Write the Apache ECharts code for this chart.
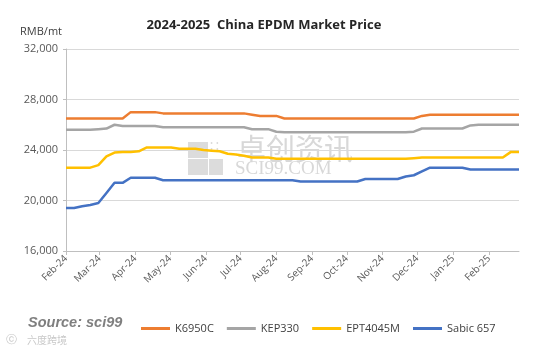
<!DOCTYPE html>
<html><head><meta charset="utf-8">
<script src="https://cdn.jsdelivr.net/npm/echarts@6/dist/echarts.min.js"></script>
<style>html,body{margin:0;padding:0;background:#fff}#c{width:540px;height:352px}</style>
</head><body><div id="c"></div>
<script>
const dates = ['2024-02-01','2024-02-08','2024-02-15','2024-02-22','2024-02-29','2024-03-07','2024-03-14','2024-03-21','2024-03-28',
'2024-04-04','2024-04-11','2024-04-18','2024-04-25','2024-05-02','2024-05-09','2024-05-16','2024-05-23','2024-05-30',
'2024-06-06','2024-06-13','2024-06-20','2024-06-27','2024-07-04','2024-07-11','2024-07-18','2024-07-25',
'2024-08-01','2024-08-08','2024-08-15','2024-08-22','2024-08-29','2024-09-05','2024-09-12','2024-09-19','2024-09-26',
'2024-10-03','2024-10-10','2024-10-17','2024-10-24','2024-10-31','2024-11-07','2024-11-14','2024-11-21','2024-11-28',
'2024-12-05','2024-12-12','2024-12-19','2024-12-26','2025-01-02','2025-01-09','2025-01-16','2025-01-23','2025-01-30',
'2025-02-06','2025-02-13','2025-02-20','2025-02-27'];
const k6950c = [26500,26500,26500,26500,26500,26500,26500,26500,27000,27000,27000,27000,
26900,26900,26900,26900,26900,26900,26900,26900,26900,26900,26900,26800,26700,26700,26700,
26500,26500,26500,26500,26500,26500,26500,26500,26500,26500,26500,26500,26500,26500,26500,26500,26500,
26700,26800,26800,26800,26800,26800,26800,26800,26800,26800,26800,26800,26800];
const kep330 = [25600,25600,25600,25600,25650,25700,26000,25900,25900,25900,25900,25900,
25800,25800,25800,25800,25800,25800,25800,25800,25800,25800,25800,25650,25650,25650,25450,
25400,25400,25400,25400,25400,25400,25400,25400,25400,25400,25400,25400,25400,25400,25400,25400,25450,
25700,25700,25700,25700,25700,25700,25950,26000,26000,26000,26000,26000,26000];
const ept4045m = [22600,22600,22600,22600,22800,23500,23800,23850,23850,23900,24200,24200,24200,24200,
24100,24100,24100,24000,23950,23900,23700,23650,23550,23400,23400,23400,
23300,23300,23300,23300,23300,23300,23300,23300,23300,23300,23300,23300,23300,23300,23300,23300,23300,23350,
23400,23400,23400,23400,23400,23400,23400,23400,23400,23400,23400,23850,23850];
const sabic657 = [19400,19400,19550,19650,19800,20600,21400,21400,21800,21800,21800,21800,
21600,21600,21600,21600,21600,21600,21600,21600,21600,21600,21600,21600,21600,21600,21600,21600,21600,
21500,21500,21500,21500,21500,21500,21500,21500,21700,21700,21700,21700,21700,21900,22000,22300,
22600,22600,22600,22600,22600,22450,22450,22450,22450,22450,22450,22450];
const tickDates = ['2024-02-01','2024-03-01','2024-04-01','2024-05-01','2024-06-01','2024-07-01','2024-08-01',
'2024-09-01','2024-10-01','2024-11-01','2024-12-01','2025-01-01','2025-02-01'];
const tickLabels = ['Feb-24','Mar-24','Apr-24','May-24','Jun-24','Jul-24','Aug-24','Sep-24','Oct-24','Nov-24','Dec-24','Jan-25','Feb-25'];
const seriesNames = ['K6950C','KEP330','EPT4045M','Sabic 657'];
const colors = ['#ED7D31','#A5A5A5','#FFC000','#4472C4'];

// day number since epoch (UTC)
const dn = s => Math.round(Date.UTC(+s.slice(0,4), +s.slice(5,7)-1, +s.slice(8,10)) / 86400000);
const tickDn = tickDates.map(dn);
const allSeries = [k6950c, kep330, ept4045m, sabic657];

const chart = echarts.init(document.getElementById('c'), null, {renderer:'canvas'});
chart.setOption({
  animation:false,
  color: colors,
  title:{text:'2024-2025  China EPDM Market Price', left:259, top:14, textAlign:'center',
    textStyle:{fontFamily:'Open Sans', fontWeight:'bold', fontSize:13, color:'#262626'}},
  grid:{left:66, right:21, top:49, bottom:101, containLabel:false},
  xAxis:{type:'value', min:dn(dates[0]), max:dn(dates[dates.length-1]),
    axisLine:{show:true, lineStyle:{color:'#BFBFBF', width:1}},
    axisTick:{show:true, length:4, lineStyle:{color:'#BFBFBF'}, customValues:tickDn},
    splitLine:{show:false},
    axisLabel:{customValues:tickDn, rotate:45, fontFamily:'Open Sans', fontSize:10, color:'#595959', margin:6,
      formatter: v => { const i = tickDn.indexOf(v); return i >= 0 ? tickLabels[i] : ''; },
      showMinLabel:true, showMaxLabel:true, hideOverlap:false}
  },
  yAxis:{type:'value', min:16000, max:32000, interval:4000, name:'RMB/mt',
    nameLocation:'end', nameGap:12, nameTextStyle:{fontFamily:'Open Sans', fontSize:11, color:'#404040', align:'right', padding:[0,4,0,0]},
    axisLine:{show:true, lineStyle:{color:'#BFBFBF'}},
    axisTick:{show:true, length:3, lineStyle:{color:'#BFBFBF'}},
    splitLine:{lineStyle:{color:'#D9D9D9', width:1}},
    axisLabel:{fontFamily:'Open Sans', fontSize:11, color:'#595959', margin:8,
      formatter: v => v.toLocaleString('en-US')}
  },
  legend:{left:136, top:318, itemWidth:29, itemHeight:3, itemGap:13, icon:'rect',
    textStyle:{fontFamily:'Open Sans', fontSize:11, color:'#404040'},
    data: seriesNames},
  graphic:[
    {type:'text', left:28, top:315, style:{text:'Source: sci99', fontFamily:'Liberation Sans', fontStyle:'italic', fontWeight:'bold', fontSize:14.5, fill:'#7f7f7f'}},
    {type:'text', left:6, top:335, style:{text:'ⓒ', fontFamily:'DejaVu Sans', fontSize:11, fill:'#c8c8c8'}},
    {type:'text', left:27, top:335, style:{text:'六度跨境', fontFamily:'Noto Sans CJK SC', fontSize:10, fill:'#c8c8c8'}},
    {type:'group', left:188, top:140, z:-1, children:[
      {type:'rect', shape:{x:0,y:0,width:20,height:16}, style:{fill:'#dcdcdc'}},
      {type:'rect', shape:{x:0,y:17,width:20,height:16}, style:{fill:'#dcdcdc'}},
      {type:'rect', shape:{x:21,y:17,width:14,height:16}, style:{fill:'#dcdcdc'}},
      {type:'text', style:{x:22, y:-2, text:'∷', fontSize:14, fill:'#dcdcdc'}}
    ]},
    {type:'text', left:237, top:134, z:-1, style:{text:'卓创资讯', fontFamily:'Noto Sans CJK SC', fontSize:29, fill:'#d8d8d8'}},
    {type:'text', left:235, top:160, z:-1, style:{text:'SCI99.COM', fontFamily:'Liberation Serif', fontSize:19, fill:'#d8d8d8'}}
  ],
  series: seriesNames.map((n,k)=>({
    name:n, type:'line', showSymbol:false, symbol:'none',
    lineStyle:{width:2.5, color:colors[k]},
    itemStyle:{color:colors[k]},
    data: dates.map((d,i)=>[dn(d), allSeries[k][i]])
  }))
});
</script></body></html>
